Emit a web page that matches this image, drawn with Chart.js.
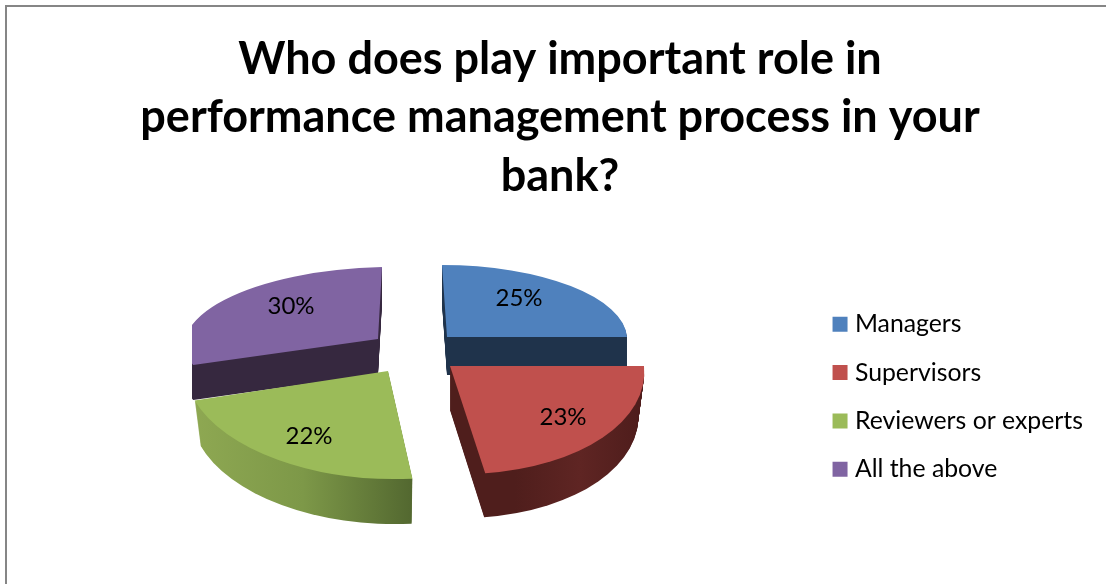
<!DOCTYPE html>
<html>
<head>
<meta charset="utf-8">
<title>Performance management</title>
<script src="https://cdn.jsdelivr.net/npm/chart.js@4/dist/chart.umd.min.js"></script>
<style>
html,body{margin:0;background:#fff;overflow:hidden;width:1106px;height:584px}
#frame{position:absolute;left:5px;top:5px;width:1200px;height:700px;border:2px solid #868686;box-sizing:border-box}
#pie{position:absolute;left:0;top:0}
</style>
</head>
<body>
<div id="frame"></div>
<canvas id="pie" width="1093" height="584"></canvas>
<script>
const titleLines=["Who does play important role in","performance management process in your","bank?"]
const categories=["Managers","Supervisors","Reviewers or experts","All the above"]
const shares=[25,23,22,30]
const topColors=["#4f81bd","#c0504d","#9bbb59","#8064a2"]

// each slice is pulled out and tilted on its own: apex on screen, then the
// images of the unit x and y axes, extrusion depth, wall colours left to right.
// taper narrows the bottom of the wall, clipLeft trims the far edge of a slice
const slices=[
{apex:[447,337],ux:[180,0],uy:[5,72],depth:38,taper:1,span:[440,630],wall:["#1f334b","#1f334b"],label:[72,-39]},
{apex:[450,366],ux:[194,0],uy:[11,108],depth:44,taper:.97,span:[450,645],wall:["#4f1e1c","#4f1e1c","#5f2523","#4d1c1b"],label:[113,51]},
{apex:[388,371],ux:[203,4],uy:[-1,108],depth:45,taper:.97,span:[194,412],wall:["#8ea852","#7d9848","#536830"],label:[-79,65]},
{apex:[378,339],ux:[193,-4],uy:[-4,72],depth:35,taper:1,clipLeft:192,span:[190,380],wall:["#36283f","#36283f"],label:[-87,-33]}
]
const drawOrder=[0,3,1,2]

function sliceMatrix(ctx,el,s,drop){
const r=el.outerRadius
const shrink=1-(1-s.taper)*drop/s.depth
const a=s.ux[0]*shrink/r,b=s.ux[1]/r,c=s.uy[0]*shrink/r,d=s.uy[1]/r
ctx.setTransform(a,b,c,d,s.apex[0]-a*el.x-c*el.y,s.apex[1]-b*el.x-d*el.y+drop)
}

function drawWall(ctx,el,s){
const grad=ctx.createLinearGradient(s.span[0],0,s.span[1],0)
s.wall.forEach((col,i)=>grad.addColorStop(i/(s.wall.length-1),col))
for(let d=s.depth;d>=1;d--){
sliceMatrix(ctx,el,s,d)
ctx.beginPath()
ctx.moveTo(el.x,el.y)
ctx.arc(el.x,el.y,el.outerRadius,el.startAngle,el.endAngle)
ctx.closePath()
// back to screen space so the gradient runs across the page
ctx.setTransform(1,0,0,1,0,0)
ctx.fillStyle=grad
ctx.fill()
}
}

const tiltedPie={
id:"tiltedPie",
beforeDatasetDraw(chart,args){
const ctx=chart.ctx
const arcs=args.meta.data
drawOrder.forEach(i=>{
const el=arcs[i],s=slices[i]
ctx.save()
if(s.clipLeft){
ctx.beginPath()
ctx.rect(s.clipLeft,0,chart.width,chart.height)
ctx.clip()
}
drawWall(ctx,el,s)
sliceMatrix(ctx,el,s,0)
el.draw(ctx)
ctx.restore()
})
ctx.save()
ctx.setTransform(1,0,0,1,0,0)
ctx.fillStyle="#000"
ctx.font="24px Lato"
ctx.textAlign="center"
ctx.textBaseline="middle"
shares.forEach((v,i)=>{
const s=slices[i]
ctx.fillText(v+"%",s.apex[0]+s.label[0],s.apex[1]+s.label[1])
})
ctx.restore()
return false
}
}

new Chart(document.getElementById("pie"),{
type:"pie",
plugins:[tiltedPie],
data:{
labels:categories,
datasets:[{data:shares,backgroundColor:topColors,borderWidth:0}]
},
options:{
responsive:false,
animation:false,
layout:{padding:{left:27,top:0,right:0,bottom:1}},
plugins:{
tooltip:{enabled:false},
title:{
display:true,
text:titleLines,
color:"#000",
font:{family:"Lato",size:45,weight:"bold",lineHeight:1.3},
padding:{top:30,bottom:5}
},
legend:{
position:"right",
fullSize:false,
labels:{
color:"#000",
font:{family:"Lato",size:24.8},
boxWidth:5,
boxHeight:5,
padding:23.5,
generateLabels(chart){
return Chart.overrides.pie.plugins.legend.labels.generateLabels(chart).map(item=>({...item,strokeStyle:item.fillStyle,lineWidth:10}))
}
}
}
}
}
})
</script>
</body>
</html>
